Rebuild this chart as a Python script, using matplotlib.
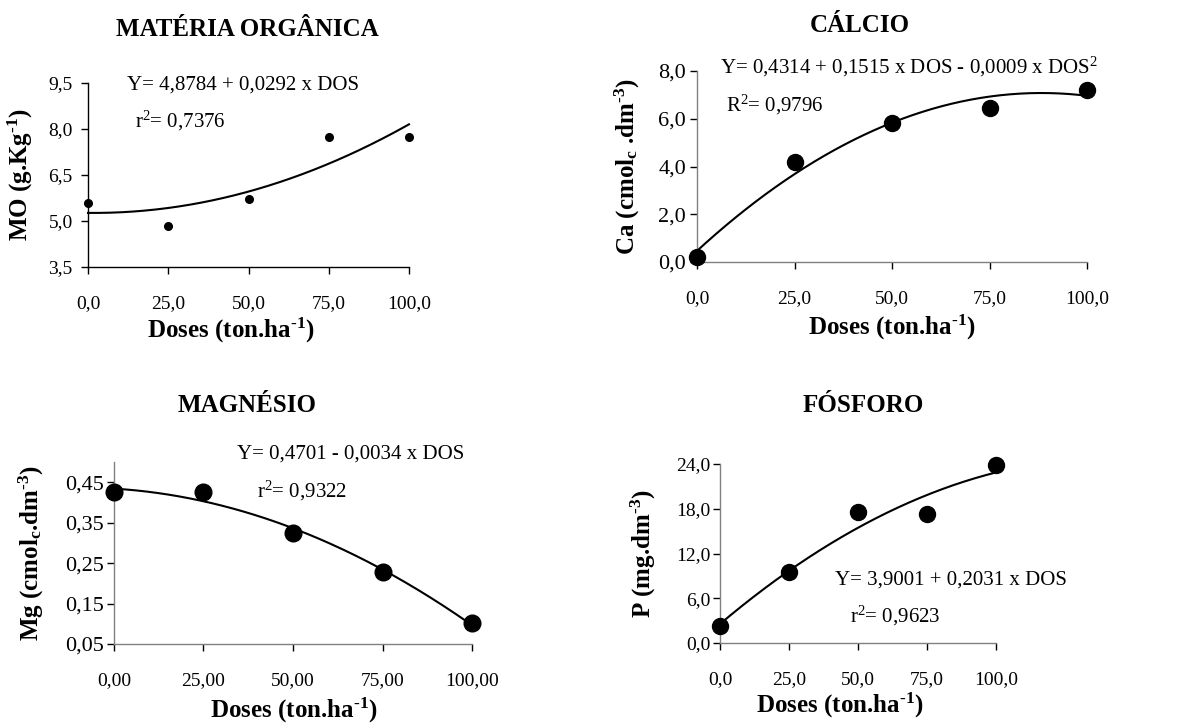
import numpy as np
import matplotlib
matplotlib.use('Agg')
import matplotlib.pyplot as plt

plt.rcParams['font.family'] = ['Liberation Serif', 'DejaVu Serif']
plt.rcParams['mathtext.default'] = 'regular'

# doses (ton/ha)
doses = [0, 25, 50, 75, 100]
# valores
mo = [5.59, 4.85, 5.73, 7.75, 7.75]
ca = [0.21, 4.20, 5.81, 6.44, 7.21]
mg = [0.425, 0.425, 0.325, 0.227, 0.102]
p = [2.3, 9.5, 17.5, 17.3, 23.8]

hif = '\u2010'
titulos = ['MATÉRIA ORGÂNICA', 'CÁLCIO', 'MAGNÉSIO', 'FÓSFORO']
ylabels = ['MO (g.Kg$^{' + hif + '1}$)', 'Ca (cmol$_{c}$ .dm$^{' + hif + '3}$)',
           'Mg (cmol$_{c}$.dm$^{' + hif + '3}$)', 'P (mg.dm$^{' + hif + '3}$)']
xlabel = 'Doses (ton.ha$^{' + hif + '1}$)'
eq1 = ['Y= 4,8784 + 0,0292 x DOS', 'Y= 0,4314 + 0,1515 x DOS - 0,0009 x DOS$^{2}$',
       'Y= 0,4701 - 0,0034 x DOS', 'Y= 3,9001 + 0,2031 x DOS']
eq2 = ['r$^{2}$= 0,7376', 'R$^{2}$= 0,9796', 'r$^{2}$= 0,9322', 'r$^{2}$= 0,9623']
yticks = [[3.5, 5.0, 6.5, 8.0, 9.5], [0, 2, 4, 6, 8],
          [0.05, 0.15, 0.25, 0.35, 0.45], [0, 6, 12, 18, 24]]
ylims = [(3.5, 9.5), (0, 8), (0.05, 0.50), (0, 24)]
yfmt = ['%.1f', '%.1f', '%.2f', '%.1f']
xfmt = ['%.1f', '%.1f', '%.2f', '%.1f']

W, H = 1186, 726
fig = plt.figure(figsize=(W/100, H/100), dpi=100)

# posições em pixels: esquerda, direita, topo, base
caixas = [(88, 409, 83, 267), (697, 1087, 71, 262), (114, 472, 462, 644), (720, 996, 464, 643)]
titulo_pos = [(247, 30), (860, 25), (247, 406), (863, 406)]
eq_pos = [(127, 90, 135, 127), (720, 73, 726, 111), (237, 459, 257, 497), (835, 585, 850, 622)]
ylab_x = [-0.165, -0.14, -0.19, -0.225]
xlab_pos = [(0.445, -0.265), (0.5, -0.267), (0.503, -0.286), (0.435, -0.268)]
spine_cor = ['black', '#808080', '#808080', '#808080']
marcador = [5.5, 11.5, 12, 11.5]
ypad = [6, 3, 2, 2]
ysize = [14, 16, 16, 14]

dados = [mo, ca, mg, p]
for i in range(4):
    l, r, t, b = caixas[i]
    ax = fig.add_axes([l/W, 1-b/H, (r-l)/W, (b-t)/H])
    x = np.array(doses, dtype=float)
    y = np.array(dados[i])
    coef = np.polyfit(x, y, 2)
    xs = np.linspace(0, 100, 200)
    ax.plot(xs, np.polyval(coef, xs), color='black', lw=1.5, clip_on=False)
    ax.plot(x, y, 'o', color='black', ms=marcador[i], clip_on=False, zorder=5)
    ax.set_xlim(0, 100)
    ax.set_ylim(*ylims[i])
    ax.set_xticks(doses)
    ax.set_xticklabels([(xfmt[i] % v).replace('.', ',') for v in doses])
    ax.set_yticks(yticks[i])
    ax.set_yticklabels([(yfmt[i] % v).replace('.', ',') for v in yticks[i]])
    for s in ['top', 'right']:
        ax.spines[s].set_visible(False)
    for s in ['left', 'bottom']:
        ax.spines[s].set_color(spine_cor[i])
        ax.spines[s].set_linewidth(1.0)
    ax.tick_params(axis='x', length=5, width=1, pad=15.5, labelsize=14)
    ax.tick_params(axis='y', length=5, width=1, pad=ypad[i], labelsize=ysize[i])
    ax.set_ylabel(ylabels[i], fontsize=18, fontweight='bold')
    ax.yaxis.set_label_coords(ylab_x[i], 0.5)
    ax.set_xlabel(xlabel, fontsize=18, fontweight='bold')
    ax.xaxis.set_label_coords(*xlab_pos[i])
    fig.text(titulo_pos[i][0]/W, 1-titulo_pos[i][1]/H, titulos[i], fontsize=18,
             fontweight='bold', ha='center', va='center')
    ex1, ey1, ex2, ey2 = eq_pos[i]
    fig.text(ex1/W, 1-ey1/H, eq1[i], fontsize=15, ha='left', va='baseline')
    fig.text(ex2/W, 1-ey2/H, eq2[i], fontsize=15, ha='left', va='baseline')

plt.savefig('out.png', dpi=100)
